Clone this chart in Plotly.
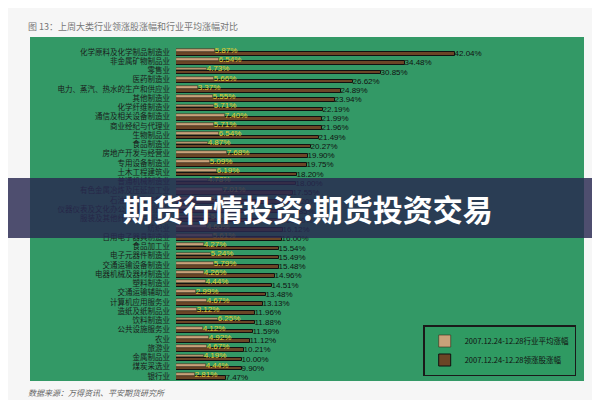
import plotly.graph_objects as go

# Industry names (top to bottom)
industries = [
    "化学原料及化学制品制造业", "非金属矿物制品业", "零售业", "医药制造业",
    "电力、蒸汽、热水的生产和供应业", "其他制造业", "化学纤维制造业", "通信及相关设备制造业",
    "商业经纪与代理业", "生物制品业", "食品制造业", "房地产开发与经营业",
    "专用设备制造业", "土木工程建筑业", "普通机械制造业", "有色金属冶炼及压延加工业",
    "石油加工及炼焦业", "仪器仪表及文化办公用机械制造业", "服装及其他纤维制品制造业", "纺织业",
    "日用电子器具制造业", "食品加工业", "电子元器件制造业", "交通运输设备制造业",
    "电器机械及器材制造业", "塑料制造业", "交通运输辅助业", "计算机应用服务业",
    "造纸及纸制品业", "饮料制造业", "公共设施服务业", "农业",
    "旅游业", "金属制品业", "煤炭采选业", "银行业",
]
# Leading stock gain (%)
leader_gain = [42.04, 34.48, 30.85, 26.62, 24.89, 23.94, 22.19, 21.99,
               21.96, 21.49, 20.27, 19.90, 19.75, 18.20, 18.00, 17.55,
               17.20, 16.85, 16.50, 16.12, 16.00, 15.54, 15.49, 15.48,
               14.96, 14.51, 13.48, 13.13, 11.96, 11.88, 11.59, 11.12,
               10.21, 10.00, 9.90, 7.47]
# Industry average gain (%)
avg_gain = [5.87, 6.54, 4.73, 5.66, 3.37, 5.55, 5.71, 7.40,
            5.71, 6.54, 4.87, 7.68, 5.09, 6.19, 4.78, 7.01,
            5.20, 4.90, 5.30, 4.60, 5.61, 4.27, 5.24, 5.79,
            4.26, 4.44, 2.99, 4.67, 3.12, 6.25, 4.12, 4.92,
            4.67, 4.19, 4.44, 2.81]

pos = list(range(len(industries)))

fig = go.Figure()
fig.add_trace(go.Bar(
    y=pos, x=leader_gain, orientation="h", width=0.38, offset=0.02,
    name="2007.12.24-12.28领涨股涨幅",
    marker=dict(color="#6b4526", line=dict(color="#111111", width=1)),
    text=[f"{v:.2f}%" for v in leader_gain], textposition="outside",
    constraintext="none", textangle=0,
    textfont=dict(size=8, color="#111111", family="Liberation Sans"),
    cliponaxis=False,
))
fig.add_trace(go.Bar(
    y=pos, x=avg_gain, orientation="h", width=0.3, offset=-0.32,
    name="2007.12.24-12.28行业平均涨幅",
    marker=dict(color="#c9a27a", line=dict(color="#3a2a1a", width=0.6)),
    text=[f"{v:.2f}%" for v in avg_gain], textposition="outside",
    constraintext="none", textangle=0,
    textfont=dict(size=8, color="#e6cc30", family="Liberation Sans"),
    cliponaxis=False,
))

fig.update_layout(
    width=600, height=400,
    paper_bgcolor="#f6f6f6", plot_bgcolor="rgba(0,0,0,0)",
    margin=dict(l=0, r=0, t=0, b=0),
    barmode="overlay", bargap=0,
    font=dict(family="Noto Sans CJK SC", size=8, color="#222222"),
    xaxis=dict(domain=[168 / 600, 576 / 600], range=[0, 61.4], visible=False),
    yaxis=dict(domain=[1 - 373 / 400, 1 - 29 / 400], range=[35.54, -1.62],
               tickvals=pos, ticktext=industries, showgrid=False, zeroline=False,
               ticks="", ticklabelstandoff=5, tickfont=dict(size=7.5, color="#1a1a1a")),
    legend=dict(x=0.947, y=0.08, xanchor="right", yanchor="bottom",
                traceorder="reversed", bgcolor="#2f9a62", bordercolor="#1a1a1a",
                borderwidth=1.5, itemwidth=30, tracegroupgap=0,
                font=dict(size=7.5, color="#111111")),
    shapes=[
        dict(type="rect", xref="paper", yref="paper", x0=22 / 600, x1=576 / 600,
             y0=1 - 373 / 400, y1=1 - 29 / 400, fillcolor="#339966",
             line=dict(width=0), layer="below"),
        dict(type="rect", xref="paper", yref="paper", x0=0, x1=1,
             y0=1 - 230 / 400, y1=1 - 170 / 400, fillcolor="rgba(40,40,80,0.82)",
             line=dict(width=0), layer="above"),
    ],
    annotations=[
        dict(text="图 13：上周大类行业领涨股涨幅和行业平均涨幅对比", xref="paper", yref="paper",
             x=18 / 600, y=1 - 18 / 400, xanchor="left", yanchor="middle", showarrow=False,
             font=dict(size=9, color="#777777")),
        dict(text="<i>数据来源：万得资讯、平安期货研究所</i>", xref="paper", yref="paper",
             x=18 / 600, y=1 - 384 / 400, xanchor="left", yanchor="middle", showarrow=False,
             font=dict(size=8, color="#666666")),
        dict(text="<b>期货行情投资:期货投资交易</b>", xref="paper", yref="paper",
             x=0.5, y=1 - 200 / 400, xanchor="center", yanchor="middle", showarrow=False,
             font=dict(size=30, color="#ffffff")),
    ],
)

fig.write_html("out.html")
